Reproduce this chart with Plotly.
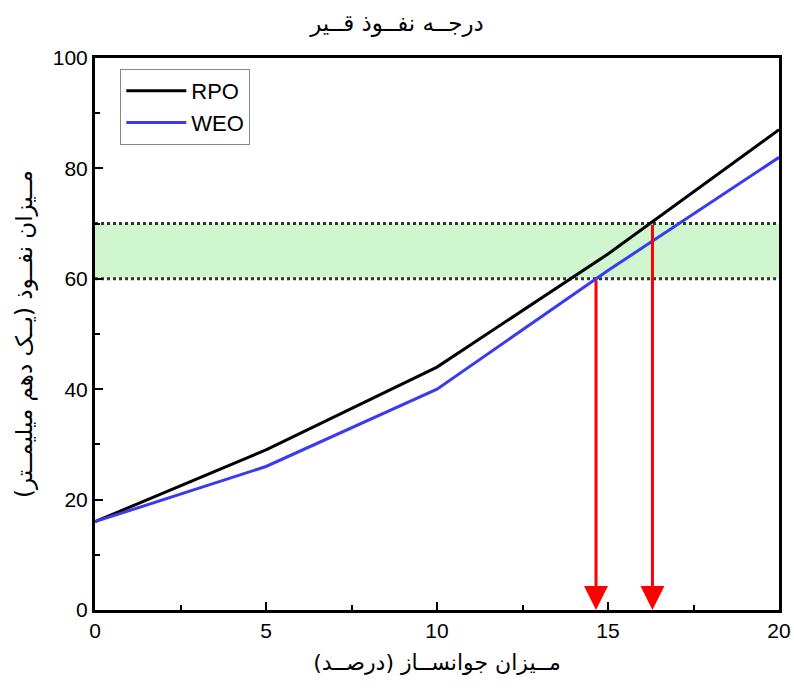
import plotly.graph_objects as go

x_vals = [0, 5, 10, 15, 20]
rpo = [16, 29, 44, 64.5, 87]
weo = [16, 26, 40, 61.5, 82]
band_low, band_high = 60, 70
arrow_x = [14.65, 16.3]
arrow_top = [60, 70]

title_text = "درجــه نفــوذ قــیر"
x_title = "مــیزان جوانســاز (درصــد)"
y_title = "مــیزان نفــوذ (یــک دهم میلیمــتر)"

fig = go.Figure()

# band
fig.add_trace(go.Scatter(x=[0, 20, 20, 0, 0], y=[band_low, band_low, band_high, band_high, band_low],
                         fill="toself", fillcolor="rgb(208,246,208)",
                         line=dict(width=0), mode="lines", showlegend=False, hoverinfo="skip"))
for yv in [band_low, band_high]:
    fig.add_trace(go.Scatter(x=[0, 20], y=[yv, yv], mode="lines",
                             line=dict(color="#333333", width=3, dash="dot"),
                             showlegend=False, hoverinfo="skip"))

fig.add_trace(go.Scatter(x=x_vals, y=rpo, mode="lines", name="RPO",
                         line=dict(color="black", width=3)))
fig.add_trace(go.Scatter(x=x_vals, y=weo, mode="lines", name="WEO",
                         line=dict(color="#3a3aee", width=3)))

for ax_, top in zip(arrow_x, arrow_top):
    fig.add_annotation(x=ax_, y=0, ax=ax_, ay=top, xref="x", yref="y", axref="x", ayref="y",
                       showarrow=True, arrowhead=2, arrowsize=1.6, arrowwidth=3,
                       arrowcolor="#ff0000", text="")

fig.update_layout(
    width=794, height=688,
    margin=dict(l=95, r=15, t=58, b=78),
    paper_bgcolor="white", plot_bgcolor="white",
    font=dict(family="Liberation Sans, Arial, DejaVu Sans", size=21, color="black"),
    title=dict(text=title_text, x=0.5, xanchor="center", y=0.966, yanchor="middle",
               font=dict(family="DejaVu Sans", size=23)),
    legend=dict(x=0.037, y=0.98, xanchor="left", yanchor="top",
                bordercolor="#888888", borderwidth=1, bgcolor="white",
                font=dict(size=22), tracegroupgap=0, itemwidth=60),
    showlegend=True,
)
fig.update_xaxes(range=[0, 20], dtick=5, ticks="inside", ticklen=8, tickwidth=2, tickcolor="black",
                 minor=dict(dtick=2.5, ticks="inside", ticklen=5, tickwidth=2, tickcolor="black"),
                 showline=True, linewidth=3, linecolor="black", mirror=True, showgrid=False,
                 zeroline=False, automargin=False,
                 title=dict(text=x_title, font=dict(family="DejaVu Sans", size=22), standoff=14))
fig.update_yaxes(range=[0, 100], dtick=20, ticks="inside", ticklen=8, tickwidth=2, tickcolor="black",
                 minor=dict(dtick=10, ticks="inside", ticklen=5, tickwidth=2, tickcolor="black"),
                 showline=True, linewidth=3, linecolor="black", mirror=True, showgrid=False,
                 zeroline=False, automargin=False,
                 title=dict(text=y_title, font=dict(family="DejaVu Sans", size=23), standoff=14))

fig.write_html("out.html", post_script="document.body.style.margin='0px';",
               config={"displayModeBar": False})
